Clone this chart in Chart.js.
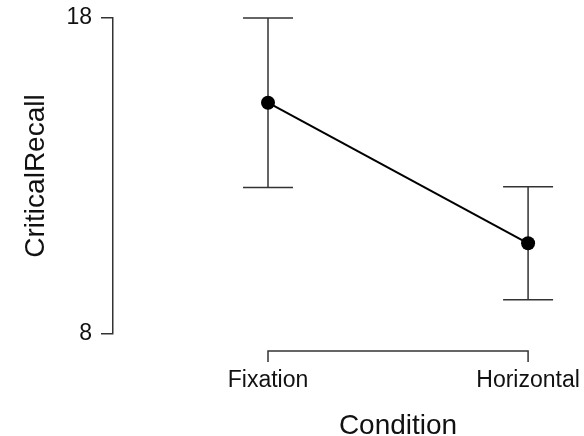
<!DOCTYPE html>
<html>
<head>
<meta charset="utf-8">
<script src="https://cdn.jsdelivr.net/npm/chart.js@4"></script>
<style>
  html, body { margin: 0; padding: 0; background: #fff; }
</style>
</head>
<body>
<canvas id="chart" width="584" height="436"></canvas>
<script>
// data
var conditions = ['Fixation', 'Horizontal'];
var recallMeans = [15.32, 10.87];
var recallErrors = [2.68, 1.79];
var yTicks = [8, 18];

var axisColor = '#333';
var fontFamily = '"Liberation Sans", Arial, sans-serif';

// error bars + R-style detached x axis
var extrasPlugin = {
    id: 'extras',
    beforeDatasetsDraw: function (chart) {
        var ctx = chart.ctx;
        var xs = chart.scales.x, ys = chart.scales.y;
        ctx.save();
        ctx.strokeStyle = axisColor;
        ctx.lineWidth = 1.5;
        for (var i = 0; i < recallMeans.length; i++) {
            var px = xs.getPixelForValue(i);
            var top = ys.getPixelForValue(recallMeans[i] + recallErrors[i]);
            var bot = ys.getPixelForValue(recallMeans[i] - recallErrors[i]);
            ctx.beginPath();
            ctx.moveTo(px, top); ctx.lineTo(px, bot);
            ctx.moveTo(px - 25, top); ctx.lineTo(px + 25, top);
            ctx.moveTo(px - 25, bot); ctx.lineTo(px + 25, bot);
            ctx.stroke();
        }
        ctx.restore();
    },
    afterDraw: function (chart) {
        var ctx = chart.ctx;
        var xs = chart.scales.x;
        var x0 = xs.getPixelForValue(0);
        var x1 = xs.getPixelForValue(conditions.length - 1);
        var yLine = chart.chartArea.bottom + 17;
        ctx.save();
        ctx.strokeStyle = axisColor;
        ctx.lineWidth = 1.5;
        ctx.beginPath();
        ctx.moveTo(x0, yLine + 11);
        ctx.lineTo(x0, yLine);
        ctx.lineTo(x1, yLine);
        ctx.lineTo(x1, yLine + 11);
        ctx.stroke();

        ctx.fillStyle = '#111';
        ctx.font = '28px ' + fontFamily;
        ctx.textAlign = 'center';
        ctx.textBaseline = 'alphabetic';
        ctx.fillText('Condition', (x0 + x1) / 2, 434);
        ctx.restore();
    }
};

var ctx = document.getElementById('chart').getContext('2d');
new Chart(ctx, {
    type: 'line',
    data: {
        datasets: [{
            data: recallMeans.map(function (v, i) { return { x: i, y: v }; }),
            borderColor: '#000',
            borderWidth: 2,
            backgroundColor: '#000',
            pointRadius: 7,
            pointBackgroundColor: '#000',
            pointBorderWidth: 0,
            tension: 0
        }]
    },
    options: {
        responsive: false,
        animation: false,
        layout: { autoPadding: false, padding: { top: 18, left: 0, right: 0, bottom: 0 } },
        plugins: { legend: { display: false }, tooltip: { enabled: false } },
        scales: {
            x: {
                type: 'linear',
                min: -0.596,
                max: 1.215,
                afterBuildTicks: function (scale) {
                    scale.ticks = conditions.map(function (c, i) { return { value: i }; });
                },
                afterFit: function (scale) {
                    scale.height = 102;
                    scale.paddingLeft = 0;
                    scale.paddingRight = 0;
                },
                grid: { display: false, drawTicks: false },
                border: { display: false },
                ticks: {
                    padding: 33,
                    color: '#111',
                    font: { family: fontFamily, size: 23 },
                    maxRotation: 0,
                    callback: function (v) { return conditions[v]; }
                }
            },
            y: {
                min: 8,
                max: 18,
                afterBuildTicks: function (scale) {
                    scale.ticks = yTicks.map(function (v) { return { value: v }; });
                },
                afterFit: function (scale) {
                    scale.width = 113;
                    scale.paddingTop = 0;
                    scale.paddingBottom = 0;
                },
                grid: {
                    display: true,
                    drawOnChartArea: false,
                    drawTicks: true,
                    tickLength: 12,
                    color: axisColor,
                    lineWidth: 1.5
                },
                border: { display: true, color: axisColor, width: 1.5 },
                ticks: {
                    padding: 9,
                    color: '#111',
                    font: { family: fontFamily, size: 23 }
                },
                title: {
                    display: true,
                    text: 'CriticalRecall',
                    color: '#111',
                    font: { family: fontFamily, size: 28 },
                    padding: { top: 19, bottom: 0 }
                }
            }
        }
    },
    plugins: [extrasPlugin]
});
</script>
</body>
</html>
